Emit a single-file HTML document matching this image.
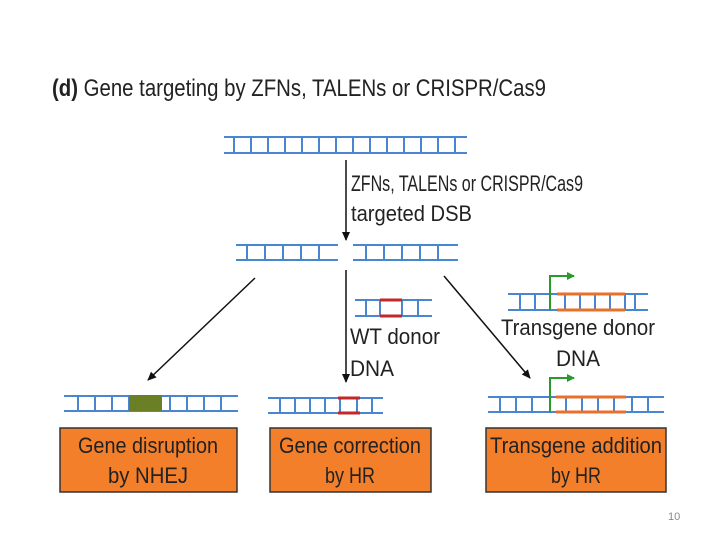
<!DOCTYPE html>
<html><head><style>body{margin:0;background:#fff}svg{display:block}</style></head><body>
<svg width="720" height="540" viewBox="0 0 720 540" xmlns="http://www.w3.org/2000/svg" font-family="Liberation Sans, sans-serif">
<defs>
<marker id="ah" markerWidth="10" markerHeight="10" refX="8" refY="5" orient="auto" markerUnits="userSpaceOnUse"><path d="M0,1 L9,5 L0,9 z" fill="#111"/></marker>
<marker id="gh" markerWidth="10" markerHeight="10" refX="7" refY="5" orient="auto" markerUnits="userSpaceOnUse"><path d="M0,1 L8,5 L0,9 z" fill="#2a9a2a"/></marker>
</defs>
<text x="52" y="96" font-size="24" fill="#222" textLength="494" lengthAdjust="spacingAndGlyphs"><tspan font-weight="bold">(d)</tspan> Gene targeting by ZFNs, TALENs or CRISPR/Cas9</text>
<g stroke="#4a86d0" stroke-width="2" fill="none">
<line x1="224" y1="137" x2="467" y2="137"/><line x1="224" y1="153" x2="467" y2="153"/>
<path d="M234 137V153M251 137V153M268 137V153M285 137V153M302 137V153M319 137V153M336 137V153M353 137V153M370 137V153M387 137V153M404 137V153M421 137V153M438 137V153M455 137V153"/>
<line x1="236" y1="245" x2="338" y2="245"/><line x1="236" y1="260" x2="338" y2="260"/>
<line x1="353" y1="245" x2="458" y2="245"/><line x1="353" y1="260" x2="458" y2="260"/>
<path d="M247 245V260M265 245V260M283 245V260M301 245V260M319 245V260M366 245V260M384 245V260M402 245V260M420 245V260M438 245V260"/>
<line x1="355" y1="300" x2="432" y2="300"/><line x1="355" y1="316" x2="432" y2="316"/>
<path d="M366 300V316M380 300V316M402 300V316M418 300V316"/>
<line x1="508" y1="294" x2="648" y2="294"/><line x1="508" y1="310" x2="648" y2="310"/>
<path d="M520 294V310M535 294V310M565 294V310M580 294V310M595 294V310M610 294V310M625 294V310M635 294V310"/>
<line x1="64" y1="396" x2="238" y2="396"/><line x1="64" y1="411" x2="238" y2="411"/>
<path d="M78 396V411M95 396V411M112 396V411M129 396V411M170 396V411M187 396V411M204 396V411M221 396V411"/>
<line x1="268" y1="398" x2="383" y2="398"/><line x1="268" y1="413" x2="383" y2="413"/>
<path d="M280 398V413M295 398V413M310 398V413M325 398V413M340 398V413M357 398V413M372 398V413"/>
<line x1="488" y1="397" x2="664" y2="397"/><line x1="488" y1="412" x2="664" y2="412"/>
<path d="M500 397V412M516 397V412M532 397V412M566 397V412M582 397V412M598 397V412M614 397V412M632 397V412M648 397V412"/>
</g>
<rect x="129" y="395" width="33" height="16" fill="#6b7f24"/>
<g stroke="#c0282a" stroke-width="3"><line x1="380" y1="300" x2="402" y2="300"/><line x1="380" y1="316" x2="402" y2="316"/>
<line x1="338" y1="398" x2="360" y2="398"/><line x1="338" y1="413" x2="360" y2="413"/></g>
<g stroke="#e8702a" stroke-width="3"><line x1="557" y1="294" x2="625" y2="294"/><line x1="557" y1="310" x2="625" y2="310"/>
<line x1="556" y1="397" x2="626" y2="397"/><line x1="556" y1="412" x2="626" y2="412"/></g>
<g stroke="#2a9a2a" stroke-width="2" fill="none">
<path d="M550 310V276H574" marker-end="url(#gh)"/>
<path d="M550 412V378H574" marker-end="url(#gh)"/>
</g>
<g stroke="#111" stroke-width="1.5">
<line x1="346" y1="160" x2="346" y2="240" marker-end="url(#ah)"/>
<line x1="255" y1="278" x2="148" y2="380" marker-end="url(#ah)"/>
<line x1="346" y1="270" x2="346" y2="382" marker-end="url(#ah)"/>
<line x1="444" y1="276" x2="530" y2="378" marker-end="url(#ah)"/>
</g>
<g font-size="22" fill="#222">
<text x="351" y="191" textLength="232" lengthAdjust="spacingAndGlyphs">ZFNs, TALENs or CRISPR/Cas9</text>
<text x="351" y="221" textLength="121" lengthAdjust="spacingAndGlyphs">targeted DSB</text>
<text x="350" y="344" textLength="90" lengthAdjust="spacingAndGlyphs">WT donor</text>
<text x="350" y="376" textLength="44" lengthAdjust="spacingAndGlyphs">DNA</text>
<text x="578" y="335" text-anchor="middle" textLength="154" lengthAdjust="spacingAndGlyphs">Transgene donor</text>
<text x="578" y="366" text-anchor="middle" textLength="44" lengthAdjust="spacingAndGlyphs">DNA</text>
</g>
<g fill="#f47f2a" stroke="#333" stroke-width="1.5">
<rect x="60" y="428" width="177" height="64"/>
<rect x="270" y="428" width="161" height="64"/>
<rect x="486" y="428" width="180" height="64"/>
</g>
<g font-size="22" fill="#222" text-anchor="middle">
<text x="148" y="453" textLength="140" lengthAdjust="spacingAndGlyphs">Gene disruption</text>
<text x="148" y="483" textLength="80" lengthAdjust="spacingAndGlyphs">by NHEJ</text>
<text x="350" y="453" textLength="142" lengthAdjust="spacingAndGlyphs">Gene correction</text>
<text x="350" y="483" textLength="50" lengthAdjust="spacingAndGlyphs">by HR</text>
<text x="576" y="453" textLength="172" lengthAdjust="spacingAndGlyphs">Transgene addition</text>
<text x="576" y="483" textLength="50" lengthAdjust="spacingAndGlyphs">by HR</text>
</g>
<text x="668" y="520" font-size="11" fill="#888">10</text>
</svg>
</body></html>
